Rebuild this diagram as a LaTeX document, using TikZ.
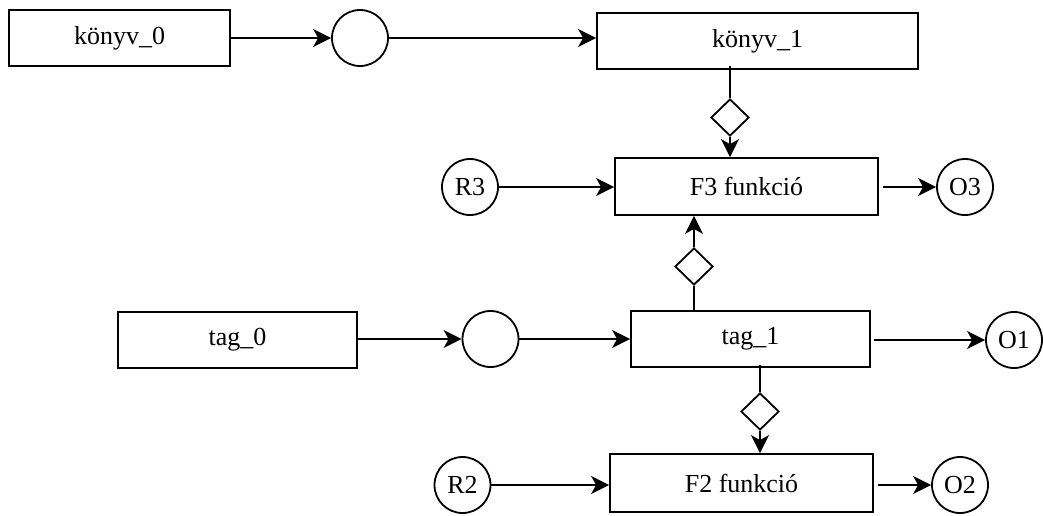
\documentclass[tikz,border=0pt]{standalone}
\usepackage{fontspec}
\setmainfont{Liberation Serif}
\usetikzlibrary{arrows.meta,shapes.geometric}
\begin{document}
\begin{tikzpicture}[x=1pt,y=-1pt,
  every node/.style={font=\fontsize{26}{31}\selectfont},
  box/.style={draw,line width=1.8pt,rectangle,inner sep=0pt},
  circ/.style={draw,line width=1.8pt,circle,minimum size=56pt,inner sep=0pt},
  dia/.style={draw,line width=1.8pt,diamond,minimum width=38pt,minimum height=37pt,inner sep=0pt},
  link/.style={line width=1.8pt},
  arr/.style={line width=1.8pt,-{Stealth[length=18pt,width=18pt,inset=5pt]}}]
\useasboundingbox (0,0) rectangle (1043,515);
% top row
\node[box,minimum width=221pt,minimum height=56pt] (k0) at (119.5,38) {könyv\_0};
\node[circ] (kc) at (360,38) {};
\node[box,minimum width=321pt,minimum height=56pt] (k1) at (757.5,41) {könyv\_1};
\node[dia] (d1) at (730,117.5) {};
\node[box,minimum width=263pt,minimum height=57pt] (f3) at (746.5,186.5) {F3 funkció};
\node[circ] (r3) at (470,187) {R3};
\node[circ] (o3) at (965,187) {O3};
% middle row
\node[box,minimum width=239pt,minimum height=56pt] (t0) at (237.5,340) {tag\_0};
\node[circ] (tc) at (490.5,339) {};
\node[box,minimum width=239pt,minimum height=56pt] (t1) at (750.5,339) {tag\_1};
\node[dia] (d2) at (694,266.5) {};
\node[circ] (o1) at (1014,340) {O1};
\node[dia] (d3) at (760,411.5) {};
% bottom row
\node[box,minimum width=263pt,minimum height=58pt] (f2) at (741.5,483) {F2 funkció};
\node[circ] (r2) at (462.5,485) {R2};
\node[circ] (o2) at (960,485) {O2};
% connectors
\draw[arr] (k0.east |- kc) -- (kc.west);
\draw[arr] (kc.east) -- (kc.east -| k1.west);
\draw[link] ([yshift=4pt]d1 |- k1.south) -- (d1.north);
\draw[arr] (d1.south) -- (d1 |- f3.north);
\draw[arr] (r3.east) -- (r3.east -| f3.west);
\draw[arr] ([xshift=4pt]f3.east |- o3) -- (o3.west);
\draw[arr] (t0.east |- tc) -- (tc.west);
\draw[arr] (tc.east) -- (tc.east -| t1.west);
\draw[link] (d2 |- t1.north) -- (d2.south);
\draw[arr] (d2.north) -- (d2 |- f3.south);
\draw[arr] ([xshift=3pt]t1.east |- o1) -- (o1.west);
\draw[link] ([yshift=3pt]d3 |- t1.south) -- (d3.north);
\draw[arr] (d3.south) -- (d3 |- f2.north);
\draw[arr] (r2.east) -- (r2.east -| f2.west);
\draw[arr] ([xshift=4pt]f2.east |- o2) -- (o2.west);
\end{tikzpicture}
\end{document}
